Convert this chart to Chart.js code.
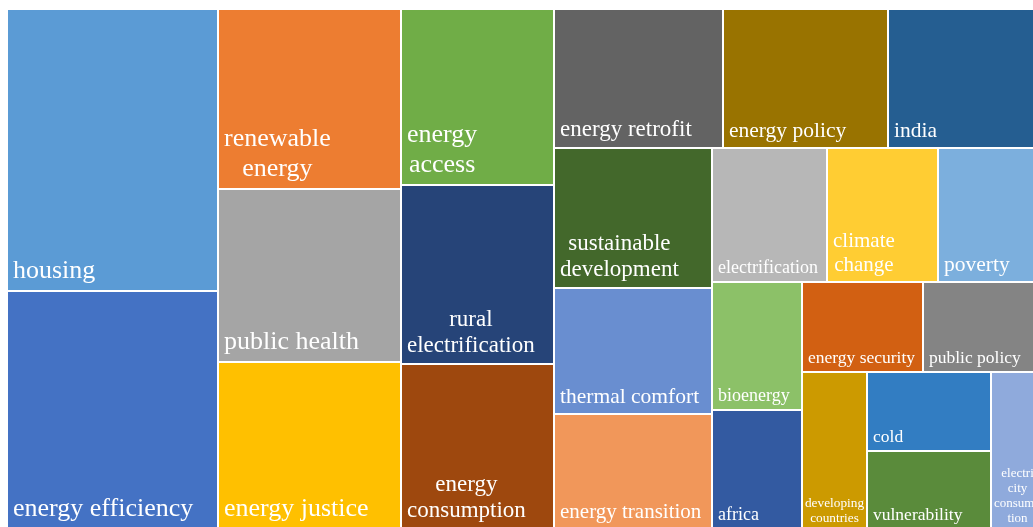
<!DOCTYPE html>
<html><head><meta charset="utf-8">
<script src="https://cdn.jsdelivr.net/npm/chart.js@4/dist/chart.umd.min.js"></script>
<style>
html,body{margin:0;padding:0;overflow:hidden;background:#fff;width:1033px;height:527px}
#wrap{position:absolute;left:0;top:0;width:1060px;height:545px}
</style></head><body>
<div id="wrap"><canvas id="c" width="1060" height="545"></canvas></div>
<script>
// ---- data (layout order) ----
const categories = ["housing","energy efficiency","renewable energy","public health","energy justice",
  "energy access","rural electrification","energy consumption","energy retrofit","energy policy","india",
  "sustainable development","thermal comfort","energy transition","electrification","climate change","poverty",
  "bioenergy","africa","energy security","public policy","developing countries","cold","vulnerability",
  "electri\u00ADcity consump\u00ADtion"];
const values = [594,500,331,316,307,268,271,251,234,229,216,221,199,182,154,149,142,115,107,109,109,102,98,97,83];
// ---- style ----
const colors = ["#5B9BD5","#4472C4","#ED7D31","#A5A5A5","#FFC000","#70AD47","#264478","#9E480E","#636363",
  "#997300","#255E91","#43682B","#698ED0","#F1975A","#B7B7B7","#FFCD33","#7CAFDD","#8CC168","#335AA1",
  "#D26012","#848484","#CC9A00","#327DC2","#5A8B3B","#8FAADC"];
const labelSizes = [26,26,26,26,26,26,23,23,23,21.5,21.5,23,21.5,21,18,21,21.5,18,18,17.5,17.5,13.3,17.5,17.5,13];
const stripSizes = [2,3,3,3,3,3,2,2,1,2,1];

function layoutStrips(vals, pxW, pxH, strips){
  let x=0,y=0,w=1,h=1,i=0; const rects=[];
  for(const n of strips){
    const group=vals.slice(i,i+n);
    const sum=group.reduce((a,b)=>a+b,0);
    const rem=vals.slice(i).reduce((a,b)=>a+b,0);
    if(w*pxW >= h*pxH){
      const cw=w*sum/rem; let cy=y;
      group.forEach(v=>{const ch=h*v/sum; rects.push({x0:x,y0:cy,x1:x+cw,y1:cy+ch}); cy+=ch;});
      x+=cw; w-=cw;
    } else {
      const rh=h*sum/rem; let cx=x;
      group.forEach(v=>{const cw=w*v/sum; rects.push({x0:cx,y0:y,x1:cx+cw,y1:y+rh}); cx+=cw;});
      y+=rh; h-=rh;
    }
    i+=n;
  }
  return rects;
}

function wrapText(ctx, text, maxW){
  const words=text.split(' '); const lines=[]; let line='';
  for(const word of words){
    const segs=word.split('\u00AD');
    segs.forEach((s,j)=>{
      const joiner = j===0 ? (line ? ' ' : '') : '';
      const cand=line+joiner+s;
      if(line==='' || ctx.measureText(cand).width<=maxW){ line=cand; }
      else { lines.push(line); line=s; }
    });
  }
  if(line) lines.push(line);
  return lines;
}

const treemapPlugin = {
  id:'treemapDraw',
  afterDatasetsDraw(chart){
    const ctx=chart.ctx, xs=chart.scales.x, ys=chart.scales.y, ca=chart.chartArea;
    const rects=layoutStrips(values, ca.right-ca.left, ca.bottom-ca.top, stripSizes);
    ctx.save();
    rects.forEach((r,i)=>{
      const X0=xs.getPixelForValue(r.x0), X1=xs.getPixelForValue(r.x1);
      const Y0=ys.getPixelForValue(r.y0), Y1=ys.getPixelForValue(r.y1);
      const fx=Math.round(X0)+1, fy=Math.round(Y0)+1, fw=Math.round(X1)-1-fx, fh=Math.round(Y1)-1-fy;
      ctx.fillStyle=colors[i];
      ctx.fillRect(fx,fy,fw,fh);
      const fs=labelSizes[i], pad=5;
      ctx.font=fs+'px "Liberation Serif", "Times New Roman", serif';
      ctx.fillStyle='#ffffff';
      ctx.textBaseline='alphabetic';
      ctx.textAlign='left';
      const lines=wrapText(ctx, categories[i], fw-2*pad);
      const widths=lines.map(l=>ctx.measureText(l).width);
      const bw=Math.max(...widths);
      let left=fx+pad;
      if(bw>fw-2*pad) left=fx+(fw-bw)/2;
      const lh=fs*1.15;
      const lastBase=fy+fh-0.46*fs;
      lines.forEach((l,k)=>{
        const by=lastBase-(lines.length-1-k)*lh;
        ctx.fillText(l, left+(bw-widths[k])/2, by);
      });
    });
    ctx.restore();
  }
};

new Chart(document.getElementById('c'),{
  type:'scatter',
  data:{datasets:[{label:'keywords',data:[]}]},
  options:{
    responsive:false, animation:false, events:[],
    layout:{padding:{left:7,top:9,right:16,bottom:16}},
    scales:{
      x:{type:'linear',min:0,max:1,display:false},
      y:{type:'linear',min:0,max:1,reverse:true,display:false}
    },
    plugins:{legend:{display:false},tooltip:{enabled:false}}
  },
  plugins:[treemapPlugin]
});
</script>
</body></html>
